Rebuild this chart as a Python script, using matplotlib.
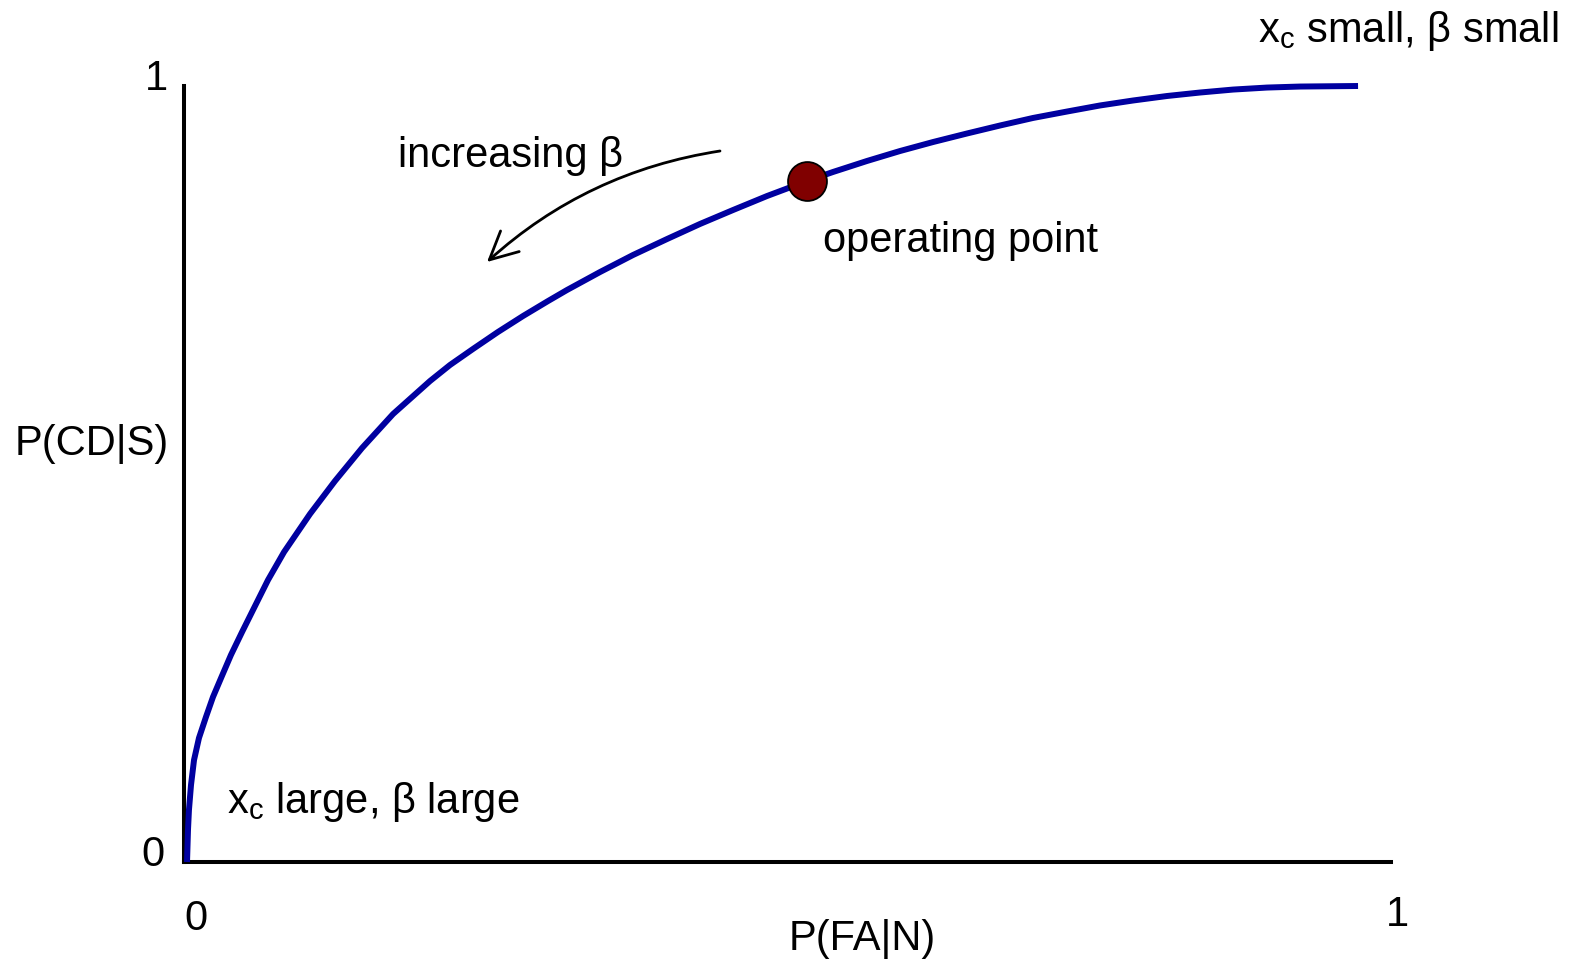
import matplotlib.pyplot as plt
from matplotlib.patches import FancyArrowPatch

plt.rcParams['font.family'] = ['Liberation Sans', 'DejaVu Sans']
plt.rcParams['mathtext.fontset'] = 'custom'
plt.rcParams['mathtext.rm'] = 'Liberation Sans'
plt.rcParams['mathtext.it'] = 'Liberation Sans'

# ROC curve: false alarm rate vs. correct detection rate
p_fa = [0.0025, 0.0033, 0.0041, 0.0058, 0.0083, 0.0124, 0.0182, 0.0240, 0.0307,
        0.0389, 0.0481, 0.0580, 0.0696, 0.0829, 0.1044, 0.1251, 0.1475, 0.1732,
        0.2038, 0.2204, 0.2394, 0.2601, 0.2809, 0.3016, 0.3173, 0.3447, 0.3720,
        0.4002, 0.4275, 0.4549, 0.4830, 0.5162, 0.5377, 0.5659, 0.5932, 0.6206,
        0.6487, 0.6761, 0.7034, 0.7316, 0.7589, 0.7862, 0.8144, 0.8418, 0.8691,
        0.8973, 0.9246, 0.9727]
p_cd = [0.0, 0.0412, 0.0670, 0.0992, 0.1314, 0.1598, 0.1869, 0.2126, 0.2371,
        0.2668, 0.2964, 0.3273, 0.3634, 0.3995, 0.4485, 0.4910, 0.5335, 0.5773,
        0.6198, 0.6405, 0.6611, 0.6830, 0.7036, 0.7229, 0.7371, 0.7603, 0.7822,
        0.8028, 0.8222, 0.8402, 0.8582, 0.8776, 0.8892, 0.9034, 0.9162, 0.9278,
        0.9388, 0.9491, 0.9588, 0.9671, 0.9749, 0.9813, 0.9871, 0.9916, 0.9954,
        0.9980, 0.9993, 1.0]

# operating point on the curve
op_fa = 0.5162
op_cd = 0.8776

W, H = 1580, 961
fig = plt.figure(figsize=(W / 100, H / 100), dpi=100)
ax = fig.add_axes([184 / W, 1 - 862 / H, 1207 / W, 776 / H])
ax.set_xlim(0, 1)
ax.set_ylim(0, 1)
for s in ['top', 'right']:
    ax.spines[s].set_visible(False)
for s in ['left', 'bottom']:
    ax.spines[s].set_linewidth(2.9)
ax.set_xticks([])
ax.set_yticks([])

ax.plot(p_fa, p_cd, color='#0000a0', lw=4.3, solid_capstyle='butt', clip_on=False, zorder=3)
ax.plot([op_fa], [op_cd], 'o', ms=28, mfc='#800000', mec='black', mew=1.3, zorder=4)

# arrow showing direction of increasing beta
arrow = FancyArrowPatch((720 / W, 1 - 151 / H), (487 / W, 1 - 262 / H),
                        transform=fig.transFigure,
                        connectionstyle='arc3,rad=0.15',
                        arrowstyle='->,head_length=1.0,head_width=0.5',
                        shrinkA=0, shrinkB=0,
                        color='black', lw=2.0, mutation_scale=20)
fig.patches.append(arrow)


def txt(x, y, s, **kw):
    kw.setdefault('va', 'baseline')
    kw.setdefault('ha', 'left')
    fig.text(x / W, 1 - y / H, s, fontsize=30, **kw)


txt(398, 167, 'increasing β')
txt(823, 252, 'operating point')
txt(1258, 42, r'x$_\mathrm{c}$ small, β small')
txt(227, 813, r'x$_\mathrm{c}$ large, β large')
txt(15, 455, 'P(CD|S)')
txt(789, 950, 'P(FA|N)')

# axis end labels
txt(153, 855, '0', ha='center', va='center')
txt(156, 79, '1', ha='center', va='center')
txt(196, 919, '0', ha='center', va='center')
txt(1397, 915, '1', ha='center', va='center')

fig.savefig('out.png', dpi=100)
